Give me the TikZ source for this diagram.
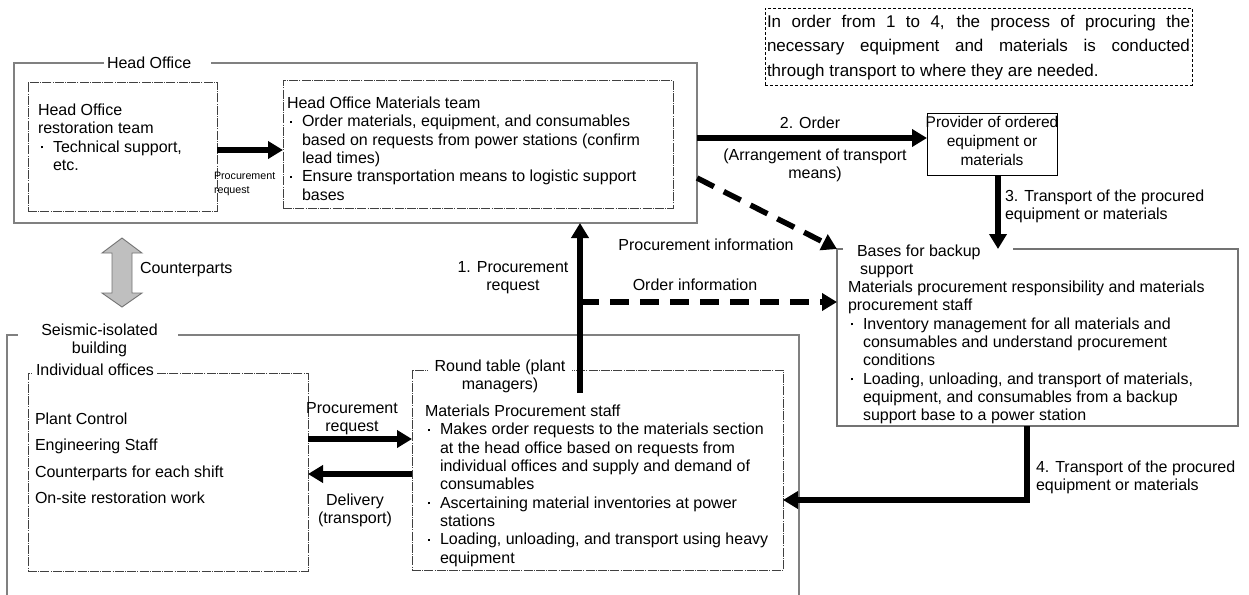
\documentclass[tikz,border=0pt]{standalone}
\usepackage{fontspec}
\setmainfont{Liberation Sans}
\usetikzlibrary{arrows.meta}
\newcommand\fnorm{\fontsize{16}{18.3}\selectfont}
\newcommand\bl{\hspace*{3pt}\makebox[12pt][l]{\raisebox{3.8pt}{\rule{2.4pt}{2.4pt}}}}
\newcommand\ct{\hspace*{15pt}}
\begin{document}
\begin{tikzpicture}[x=1pt,y=-1pt,
  every node/.style={inner sep=0pt, outer sep=0pt, font=\fnorm},
  outerbox/.style={draw=black!50, line width=1.3pt},
  innerbox/.style={draw=black!75, line width=0.8pt, dash pattern=on 9pt off 1.2pt on 1pt off 1.2pt},
  notebox/.style={draw=black, line width=0.8pt, dash pattern=on 3pt off 2pt},
  plainbox/.style={draw=black, line width=0.9pt},
  graybox/.style={draw=black!55, line width=1.3pt},
  bigarrow/.style={line width=5.5pt, -{Triangle[length=15pt,width=17pt]}},
  dasharrow/.style={bigarrow, dash pattern=on 19pt off 11pt},
  lbl/.style={align=center},
  gap/.style={fill=white}
]
\useasboundingbox (0,0) rectangle (1249,594);

% ---------- boxes ----------
\node[outerbox, anchor=north west, minimum width=683pt, minimum height=160pt] (ho) at (14,63) {};
\fill[gap] (104,60) rectangle (211,66);
\node[anchor=west] (hotitle) at (107,63) {Head Office};

\node[innerbox, anchor=north west, minimum width=189pt, minimum height=129pt] (hor) at (28,82) {};
\node[anchor=north west, align=left] (hortext) at (38,104)
  {Head Office\\restoration team\\\bl Technical support,\\\ct etc.};

\node[innerbox, anchor=north west, minimum width=390pt, minimum height=128pt] (hom) at (283,80) {};
\node[anchor=north west, align=left] (homtext) at (287,97)
  {Head Office Materials team\\
   \bl Order materials, equipment, and consumables\\
   \ct based on requests from power stations (confirm\\
   \ct lead times)\\
   \bl Ensure transportation means to logistic support\\
   \ct bases};

\node[notebox, anchor=north west, minimum width=427pt, minimum height=77pt] (note) at (765,8) {};
\node[anchor=north west, text width=423pt, align=justify, font=\fontsize{17}{24.5}\selectfont] (notetext) at (767,15)
  {In order from 1 to 4, the process of procuring the\linebreak
   necessary equipment and materials is conducted\linebreak
   through transport to where they are needed.};

\node[plainbox, anchor=north west, minimum width=130pt, minimum height=62pt] (prov) at (927,113) {};
\node[anchor=north, align=center, font=\fontsize{15.5}{19.2}\selectfont] (provtext) at (992,116)
  {Provider of ordered\\equipment or\\materials};

\node[graybox, anchor=north west, minimum width=401pt, minimum height=177pt] (bases) at (837,249) {};
\fill[gap] (843,246) rectangle (1013,252);
\node[anchor=north west, align=left] (basestitle) at (857,245)
  {Bases for backup\\\hspace*{3pt}support};
\node[anchor=north west, align=left] (basestext) at (848,281)
  {Materials procurement responsibility and materials\\
   procurement staff\\
   \bl Inventory management for all materials and\\
   \ct consumables and understand procurement\\
   \ct conditions\\
   \bl Loading, unloading, and transport of materials,\\
   \ct equipment, and consumables from a backup\\
   \ct support base to a power station};

% seismic-isolated building (open at bottom)
\coordinate (sbl) at (7,600);
\coordinate (sbr) at (799,600);
\draw[outerbox] (sbl) -- (7,335) -- (799,335) -- (sbr);
\fill[gap] (18,332) rectangle (178,338);
\node[anchor=north, align=center] (sbtitle) at (99.5,324) {Seismic-isolated\\building};

\node[innerbox, anchor=north west, minimum width=280pt, minimum height=198pt] (ind) at (28,373) {};
\fill[gap] (33,370) rectangle (157,376);
\node[anchor=west] (indtitle) at (36,370) {Individual offices};
\node[anchor=north west, align=left, font=\fontsize{16}{26.2}\selectfont] (indtext) at (35,413)
  {Plant Control\\Engineering Staff\\Counterparts for each shift\\On-site restoration work};

\node[innerbox, anchor=north west, minimum width=371pt, minimum height=200pt] (rt) at (412,370) {};
\fill[gap] (428,367) rectangle (572,373);
\node[anchor=north, align=center] (rttitle) at (500,360) {Round table (plant\\managers)};
\node[anchor=north west, align=left] (rttext) at (425,405)
  {Materials Procurement staff\\
   \bl Makes order requests to the materials section\\
   \ct at the head office based on requests from\\
   \ct individual offices and supply and demand of\\
   \ct consumables\\
   \bl Ascertaining material inventories at power\\
   \ct stations\\
   \bl Loading, unloading, and transport using heavy\\
   \ct equipment};

% ---------- connectors ----------
\draw[bigarrow] (hor.east |- 0,150) -- (hom.west |- 0,150);
\node[anchor=north west, align=left, font=\fontsize{10.7}{14}\selectfont] (smallpr) at (214,172) {Procurement\\request};

\draw[bigarrow] (ho.east |- 0,138) -- (prov.west |- 0,138);
\node (ordlbl) at (810,123) {2. Order};
\node[lbl, anchor=north] (arrlbl) at (815,149) {(Arrangement of transport\\means)};

\draw[bigarrow] (prov.south -| 998,0) -- (bases.north -| 998,0);
\node[anchor=north west, align=left] (t3lbl) at (1005,190) {3. Transport of the procured\\equipment or materials};

\draw[dasharrow] (ho.east |- 0,178) -- (bases.north west);
\node (pilbl) at (706,245) {Procurement information};

\coordinate (a1) at (580,393);
\draw[bigarrow] (a1) -- (ho.south -| a1);
\node[lbl, anchor=north] (p1lbl) at (513,261) {1. Procurement\\request};

\coordinate (oi) at (580,302);
\draw[dasharrow] (oi) -- (bases.west |- oi);
\node (oilbl) at (695,285) {Order information};

\draw[bigarrow] (bases.south -| 1027,0) |- (rt.east |- 0,500);
\node[anchor=north west, align=left] (t4lbl) at (1036,461) {4. Transport of the procured\\equipment or materials};

\draw[bigarrow] (ind.east |- 0,439) -- (rt.west |- 0,439);
\node[lbl, anchor=north] (prlbl) at (352,402) {Procurement\\request};
\draw[bigarrow] (rt.west |- 0,474) -- (ind.east |- 0,474);
\node[lbl, anchor=north] (dellbl) at (355,494) {Delivery\\(transport)};

% counterparts block arrow
\filldraw[fill=black!25, draw=black!55, line width=0.9pt]
  (122,238) -- (102,253) -- (112,253) -- (112,293) -- (102,293) -- (122,307)
  -- (142,293) -- (132,293) -- (132,253) -- (142,253) -- cycle;
\node[anchor=west] (cplbl) at (140,270) {Counterparts};
\end{tikzpicture}
\end{document}
